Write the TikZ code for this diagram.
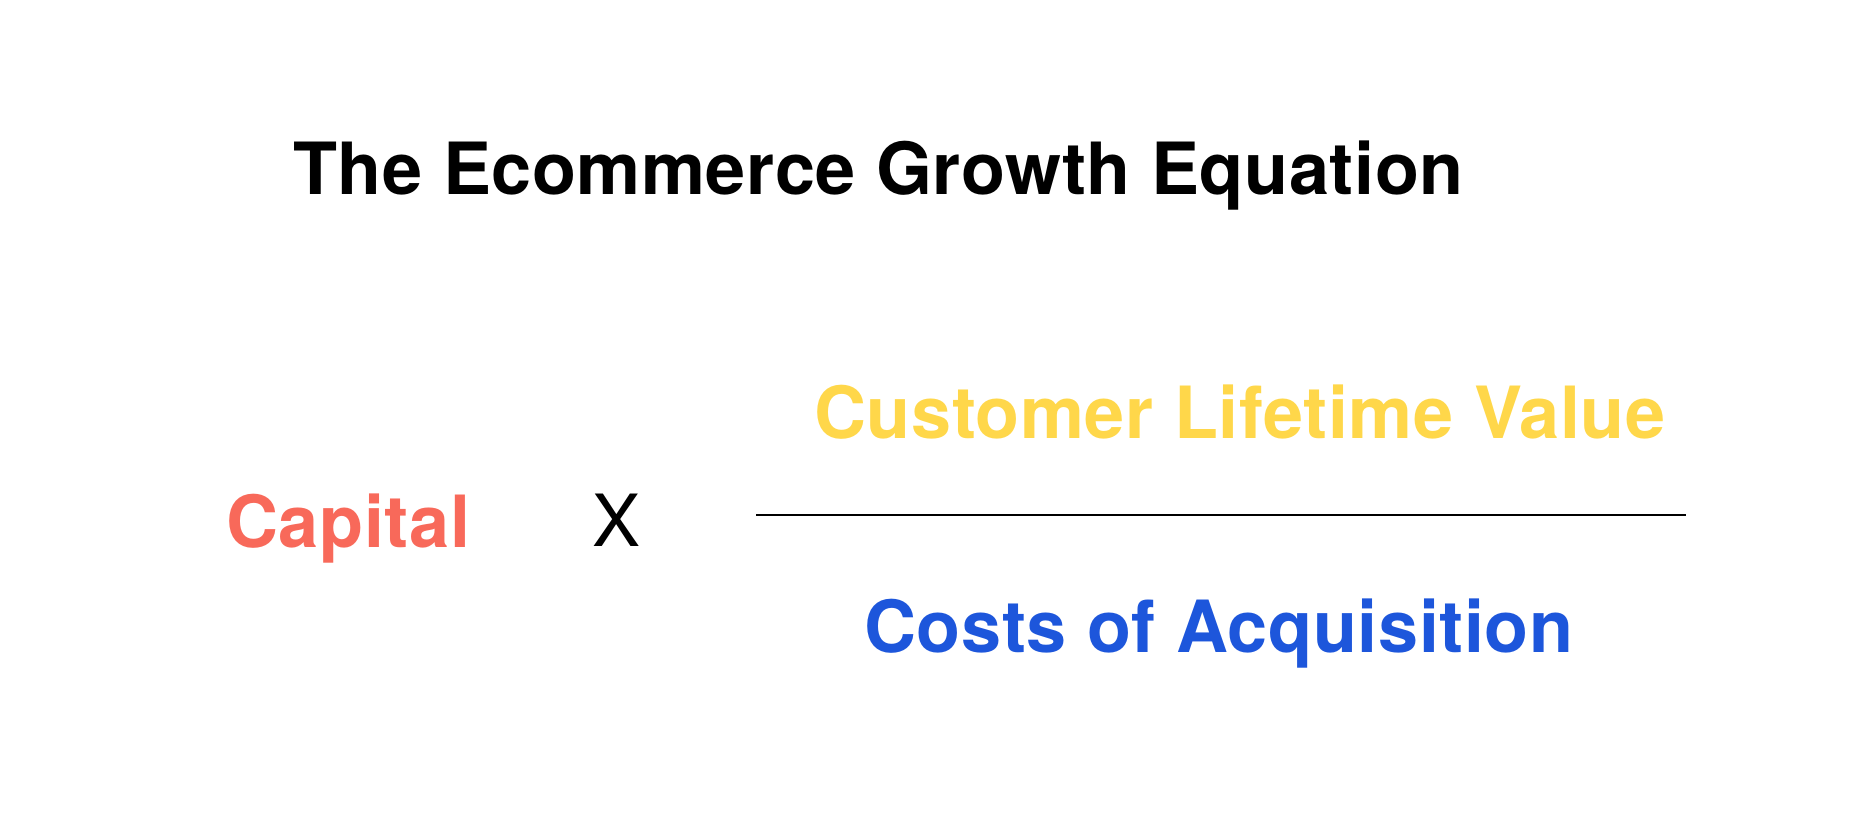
\documentclass[tikz,border=0pt]{standalone}
\usepackage{fontspec}
\setmainfont{TeX Gyre Heros}
\newfontfamily\eqfont[LetterSpace=0.8]{TeX Gyre Heros}
\usetikzlibrary{positioning}
\definecolor{capred}{HTML}{F8695A}
\definecolor{cltvyellow}{HTML}{FFD74A}
\definecolor{cacblue}{HTML}{1D56DB}

\begin{document}
\begin{tikzpicture}[x=0.75pt,y=-0.75pt,
  term/.style={inner sep=0pt,anchor=base west,font=\eqfont\bfseries\fontsize{54}{60}\selectfont},
  bar/.style={line width=1.5pt}]
\useasboundingbox (0,0) rectangle (1869,816);
\node[term] (title) at (293,195) {The Ecommerce Growth Equation};
\node[term,text=capred] (cap) at (226,547) {Capital};
\node[term,font=\eqfont\fontsize{54}{60}\selectfont] (times) at (592,546) {X};
\node[term,text=cltvyellow] (cltv) at (814,438) {Customer Lifetime Value};
\node[term,text=cacblue] (cac) at (864,652) {Costs of Acquisition};
\coordinate (barL) at (756,515);
\coordinate (barR) at (1686,515);
\draw[bar] (barL) -- (barR);
\end{tikzpicture}
\end{document}
